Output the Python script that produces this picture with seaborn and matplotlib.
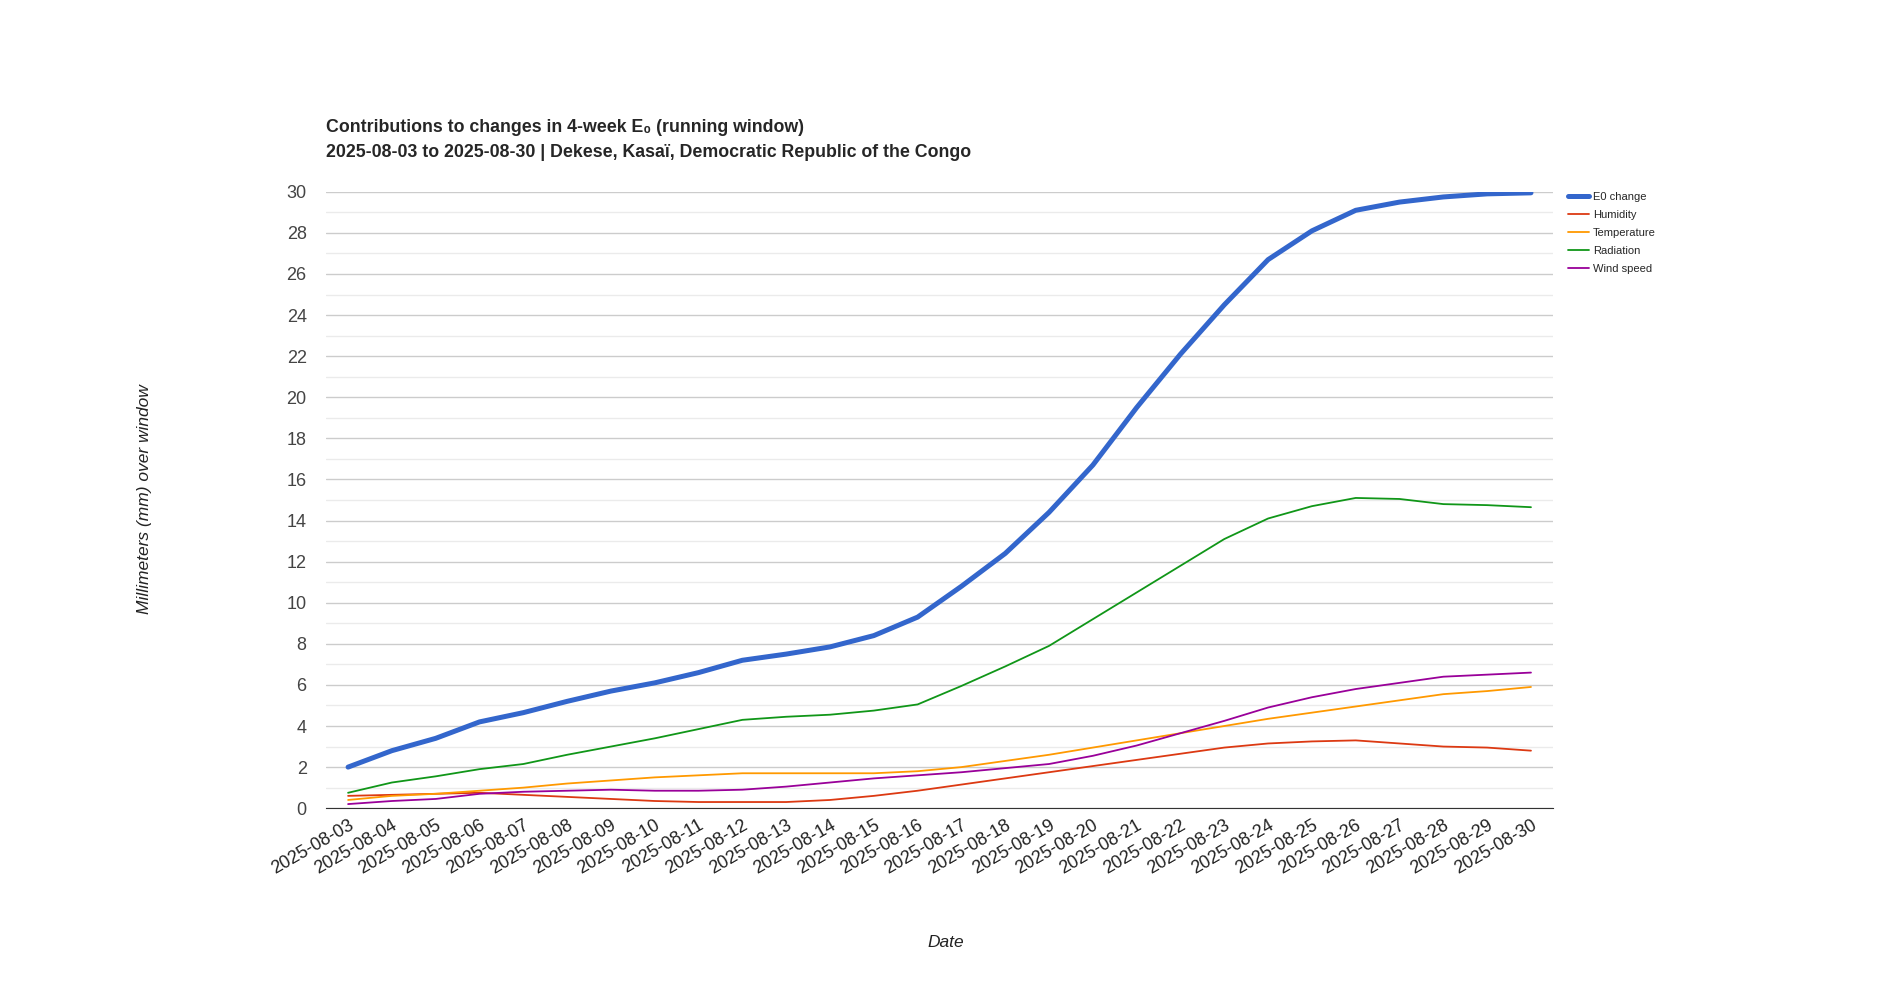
import numpy as np
import pandas as pd
import matplotlib
matplotlib.use("Agg")
import matplotlib.pyplot as plt
import seaborn as sns

dates = pd.date_range("2025-08-03", "2025-08-30").strftime("%Y-%m-%d").tolist()

e0_change = [2.0, 2.8, 3.4, 4.2, 4.65, 5.2, 5.7, 6.1, 6.6, 7.2, 7.5, 7.85, 8.4, 9.3,
             10.8, 12.4, 14.4, 16.7, 19.5, 22.1, 24.5, 26.7, 28.1, 29.1, 29.5, 29.75, 29.9, 29.95]
humidity = [0.6, 0.65, 0.7, 0.75, 0.65, 0.55, 0.45, 0.35, 0.3, 0.3, 0.3, 0.4, 0.6, 0.85,
            1.15, 1.45, 1.75, 2.05, 2.35, 2.65, 2.95, 3.15, 3.25, 3.3, 3.15, 3.0, 2.95, 2.8]
temperature = [0.4, 0.6, 0.7, 0.85, 1.0, 1.2, 1.35, 1.5, 1.6, 1.7, 1.7, 1.7, 1.7, 1.8,
               2.0, 2.3, 2.6, 2.95, 3.3, 3.65, 4.0, 4.35, 4.65, 4.95, 5.25, 5.55, 5.7, 5.9]
radiation = [0.75, 1.25, 1.55, 1.9, 2.15, 2.6, 3.0, 3.4, 3.85, 4.3, 4.45, 4.55, 4.75, 5.05,
             5.95, 6.9, 7.9, 9.2, 10.5, 11.8, 13.1, 14.1, 14.7, 15.1, 15.05, 14.8, 14.75, 14.65]
wind_speed = [0.2, 0.35, 0.45, 0.7, 0.8, 0.85, 0.9, 0.85, 0.85, 0.9, 1.05, 1.25, 1.45, 1.6,
              1.75, 1.95, 2.15, 2.55, 3.05, 3.65, 4.25, 4.9, 5.4, 5.8, 6.1, 6.4, 6.5, 6.6]

series = {
    "E0 change": e0_change,
    "Humidity": humidity,
    "Temperature": temperature,
    "Radiation": radiation,
    "Wind speed": wind_speed,
}
colors = {
    "E0 change": "#3366cc",
    "Humidity": "#dc3912",
    "Temperature": "#ff9900",
    "Radiation": "#109618",
    "Wind speed": "#990099",
}

df = pd.DataFrame(series)
df["idx"] = np.arange(len(dates))

sns.set_style("white")
plt.rcParams["font.family"] = ["Liberation Sans", "DejaVu Sans"]

fig = plt.figure(figsize=(18.8, 9.99), dpi=100)
ax = fig.add_axes([0.1735, 0.191, 0.6525, 0.617])

for name in series:
    lw = 3.6 if name == "E0 change" else 1.3
    sns.lineplot(data=df, x="idx", y=name, ax=ax, color=colors[name],
                 linewidth=lw, label=name, legend=False, zorder=3)

ax.set_xlim(-0.5, len(dates) - 0.5)
ax.set_ylim(0, 30)
ax.set_yticks(np.arange(0, 31, 2))
ax.set_yticks(np.arange(1, 30, 2), minor=True)
ax.grid(axis="y", which="major", color="#cccccc", linewidth=1)
ax.grid(axis="y", which="minor", color="#ebebeb", linewidth=1)
ax.set_axisbelow(True)
for s in ["top", "right", "left"]:
    ax.spines[s].set_visible(False)
ax.spines["bottom"].set_color("#333333")
ax.spines["bottom"].set_zorder(4)

ax.set_xticks(df["idx"])
ax.set_xticklabels(dates, rotation=30, ha="right", rotation_mode="anchor",
                   fontsize=13, color="#222222")
ax.tick_params(axis="y", which="both", length=0, labelsize=13, labelcolor="#444444", pad=14)
ax.tick_params(axis="x", length=0, pad=6)
ax.set_xlabel("")
ax.set_ylabel("")

fig.text(0.1735, 0.872, "Contributions to changes in 4-week E₀ (running window)",
         fontsize=12.8, fontweight="bold", va="center", ha="left")
fig.text(0.1735, 0.847,
         "2025-08-03 to 2025-08-30 | Dekese, Kasaï, Democratic Republic of the Congo",
         fontsize=12.8, fontweight="bold", va="center", ha="left")
fig.text(0.077, 0.5, "Millimeters (mm) over window", rotation=90, fontsize=12.5,
         style="italic", va="center", ha="center", color="#222222")
fig.text(0.503, 0.057, "Date", fontsize=12.5, style="italic", va="center", ha="center",
         color="#222222")

handles, labels = ax.get_legend_handles_labels()
fig.legend(handles, labels, loc="upper left", bbox_to_anchor=(0.8315, 0.812),
           frameon=False, fontsize=8, handlelength=1.95, labelspacing=0.72,
           handletextpad=0.3, borderaxespad=0)

fig.savefig("out.png", dpi=100, facecolor="white")
